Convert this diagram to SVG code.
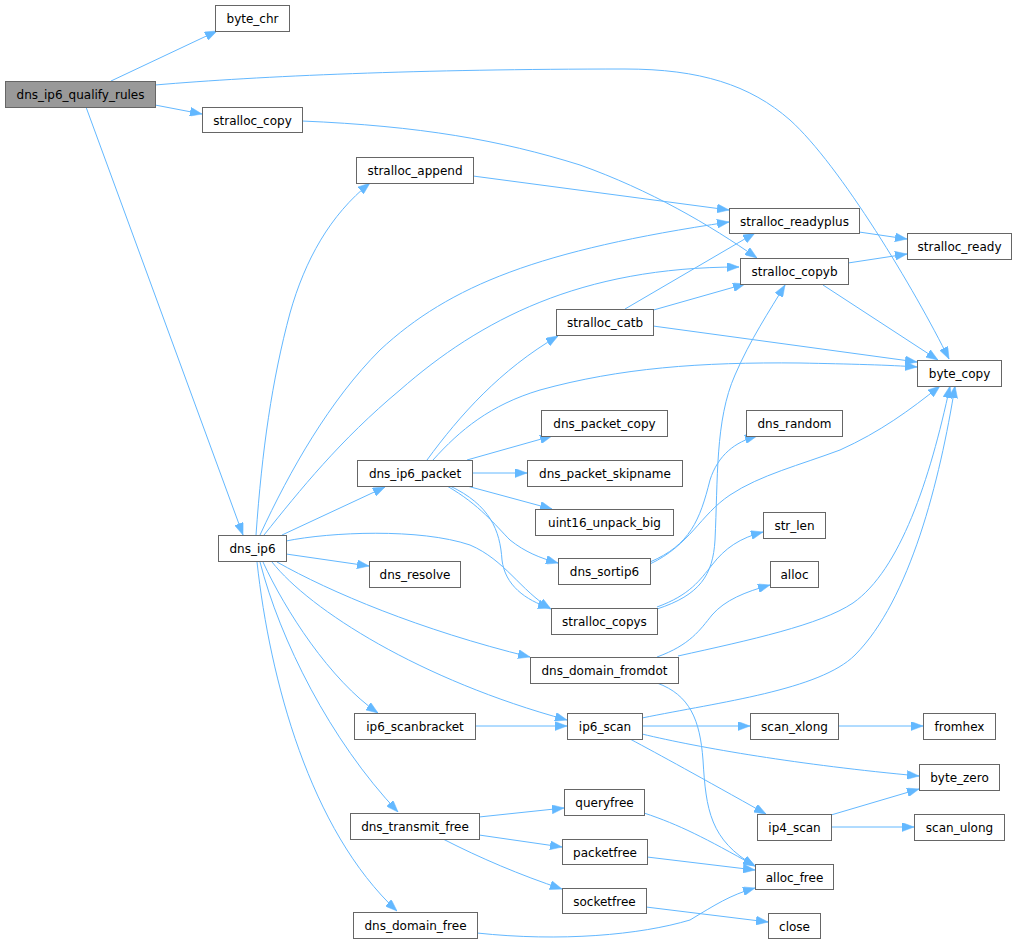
<svg xmlns="http://www.w3.org/2000/svg" width="1017" height="944" viewBox="0 0 1017 944">
<style>
.n rect{fill:#ffffff;stroke:#666666;stroke-width:1}
.n.root rect{fill:#999999}
.n text{font-family:"DejaVu Sans","Liberation Sans",sans-serif;font-size:12px;fill:#000000;text-anchor:middle}
.e path{fill:none;stroke:#63b8ff;stroke-width:1;marker-end:url(#arr)}
</style>
<defs>
<marker id="arr" markerUnits="userSpaceOnUse" markerWidth="12" markerHeight="9" refX="12" refY="4.5" orient="auto">
<path d="M0,0 L12,4.5 L0,9 z" fill="#63b8ff" stroke="#63b8ff" stroke-width="0.5"/>
</marker>
</defs>
<rect width="1017" height="944" fill="#ffffff"/>
<g id="connectors" class="e">
<path d="M111,81 L217,31"/>
<path d="M155,85 C260,76 420,69 625,69 C700,69 750,85 790,120 C840,165 915,290 949,359"/>
<path d="M155,105 L202,114"/>
<path d="M86,107 L243,535"/>
<path d="M302,121 C420,126 500,140 580,165 C650,190 710,225 757,258"/>
<path d="M473,176 L729,210"/>
<path d="M859,232 L907,239"/>
<path d="M848,263 L907,254"/>
<path d="M823,285 L938,360"/>
<path d="M625,309 L755,233"/>
<path d="M650,311 L745,284"/>
<path d="M653,326 L917,362"/>
<path d="M256,535 C262,450 272,380 290,313 C305,260 330,215 370,183"/>
<path d="M260,535 C290,470 330,400 380,350 C450,285 540,250 729,222"/>
<path d="M264,535 C300,490 340,440 400,390 C480,320 580,267 739,267"/>
<path d="M282,535 L385,487"/>
<path d="M286,541 C330,532 420,528 470,545 C505,560 520,590 551,609"/>
<path d="M286,554 L369,566"/>
<path d="M277,562 C330,592 420,630 530,657"/>
<path d="M272,562 C310,610 420,680 567,720"/>
<path d="M263,562 C285,610 330,680 378,713"/>
<path d="M260,562 C280,640 330,740 398,812"/>
<path d="M257,562 C270,680 310,830 397,911"/>
<path d="M427,460 C460,415 500,370 558,336"/>
<path d="M433,460 C460,430 490,405 540,390 C620,368 700,362 800,363 C850,364 890,365 917,367"/>
<path d="M467,460 L552,436"/>
<path d="M472,473 L527,473"/>
<path d="M467,486 L552,509"/>
<path d="M447,486 C480,505 495,525 510,540 C525,552 540,558 558,563"/>
<path d="M450,486 C490,505 500,530 502,560 C505,585 525,600 550,608"/>
<path d="M650,562 C690,545 700,520 710,480 C718,455 735,442 757,436"/>
<path d="M650,564 C690,545 700,515 730,495 C760,475 800,465 840,450 C880,432 910,410 940,386"/>
<path d="M657,609 C700,595 713,575 715,540 C718,480 715,420 735,375 C750,340 770,310 785,285"/>
<path d="M657,607 C690,595 700,580 712,565 C725,548 740,538 763,532"/>
<path d="M657,657 C690,645 700,630 712,615 C725,600 745,592 770,585"/>
<path d="M678,656 C750,640 820,625 853,603 C900,570 930,480 950,386"/>
<path d="M657,683 C690,695 700,720 703,760 C706,810 710,840 755,866"/>
<path d="M475,726 L567,726"/>
<path d="M642,718 C720,702 820,690 855,655 C910,600 940,480 955,386"/>
<path d="M642,726 L750,726"/>
<path d="M642,734 C700,748 800,765 919,776"/>
<path d="M630,739 C660,755 700,777 766,814"/>
<path d="M838,726 L923,726"/>
<path d="M831,815 L919,789"/>
<path d="M831,827 L914,827"/>
<path d="M479,817 L564,808"/>
<path d="M479,835 L562,847"/>
<path d="M443,839 C480,858 520,875 562,889"/>
<path d="M644,813 C680,825 705,838 755,866"/>
<path d="M647,857 L755,870"/>
<path d="M646,907 L768,922"/>
<path d="M477,933 C560,942 640,935 690,920 C715,905 730,895 755,888"/>
</g>
<g id="dns_ip6_qualify_rules" class="n root"><rect x="5.5" y="81.5" width="150" height="26"/><text x="80.5" y="99">dns_ip6_qualify_rules</text></g>
<g id="byte_chr" class="n"><rect x="215.5" y="5.5" width="74" height="26"/><text x="252.5" y="23">byte_chr</text></g>
<g id="stralloc_copy" class="n"><rect x="202.5" y="107.5" width="100" height="25"/><text x="252.5" y="125">stralloc_copy</text></g>
<g id="stralloc_append" class="n"><rect x="356.5" y="157.5" width="117" height="26"/><text x="415" y="175">stralloc_append</text></g>
<g id="stralloc_readyplus" class="n"><rect x="729.5" y="208.5" width="130" height="25"/><text x="794.5" y="226">stralloc_readyplus</text></g>
<g id="stralloc_ready" class="n"><rect x="907.5" y="233.5" width="104" height="26"/><text x="959.5" y="251">stralloc_ready</text></g>
<g id="stralloc_copyb" class="n"><rect x="740.5" y="258.5" width="108" height="26"/><text x="794.5" y="276">stralloc_copyb</text></g>
<g id="stralloc_catb" class="n"><rect x="556.5" y="309.5" width="97" height="26"/><text x="605" y="327">stralloc_catb</text></g>
<g id="byte_copy" class="n"><rect x="917.5" y="360.5" width="84" height="26"/><text x="959.5" y="378">byte_copy</text></g>
<g id="dns_packet_copy" class="n"><rect x="541.5" y="410.5" width="126" height="26"/><text x="604.5" y="428">dns_packet_copy</text></g>
<g id="dns_random" class="n"><rect x="746.5" y="410.5" width="96" height="26"/><text x="794.5" y="428">dns_random</text></g>
<g id="dns_ip6_packet" class="n"><rect x="357.5" y="460.5" width="115" height="26"/><text x="415" y="478">dns_ip6_packet</text></g>
<g id="dns_packet_skipname" class="n"><rect x="527.5" y="460.5" width="155" height="26"/><text x="605" y="478">dns_packet_skipname</text></g>
<g id="uint16_unpack_big" class="n"><rect x="535.5" y="509.5" width="138" height="26"/><text x="604.5" y="527">uint16_unpack_big</text></g>
<g id="str_len" class="n"><rect x="763.5" y="512.5" width="62" height="26"/><text x="794.5" y="530">str_len</text></g>
<g id="dns_ip6" class="n"><rect x="218.5" y="535.5" width="68" height="26"/><text x="252.5" y="553">dns_ip6</text></g>
<g id="dns_sortip6" class="n"><rect x="558.5" y="558.5" width="92" height="26"/><text x="604.5" y="576">dns_sortip6</text></g>
<g id="dns_resolve" class="n"><rect x="369.5" y="561.5" width="91" height="26"/><text x="415" y="579">dns_resolve</text></g>
<g id="alloc" class="n"><rect x="770.5" y="561.5" width="48" height="26"/><text x="794.5" y="579">alloc</text></g>
<g id="stralloc_copys" class="n"><rect x="551.5" y="608.5" width="106" height="26"/><text x="604.5" y="626">stralloc_copys</text></g>
<g id="dns_domain_fromdot" class="n"><rect x="530.5" y="657.5" width="148" height="26"/><text x="604.5" y="675">dns_domain_fromdot</text></g>
<g id="ip6_scanbracket" class="n"><rect x="354.5" y="713.5" width="121" height="26"/><text x="415" y="731">ip6_scanbracket</text></g>
<g id="ip6_scan" class="n"><rect x="567.5" y="713.5" width="75" height="26"/><text x="605" y="731">ip6_scan</text></g>
<g id="scan_xlong" class="n"><rect x="750.5" y="713.5" width="88" height="26"/><text x="794.5" y="731">scan_xlong</text></g>
<g id="fromhex" class="n"><rect x="923.5" y="713.5" width="72" height="26"/><text x="959.5" y="731">fromhex</text></g>
<g id="byte_zero" class="n"><rect x="919.5" y="764.5" width="80" height="26"/><text x="959.5" y="782">byte_zero</text></g>
<g id="queryfree" class="n"><rect x="564.5" y="789.5" width="80" height="26"/><text x="604.5" y="807">queryfree</text></g>
<g id="dns_transmit_free" class="n"><rect x="350.5" y="813.5" width="129" height="26"/><text x="415" y="831">dns_transmit_free</text></g>
<g id="ip4_scan" class="n"><rect x="757.5" y="814.5" width="74" height="26"/><text x="794.5" y="832">ip4_scan</text></g>
<g id="scan_ulong" class="n"><rect x="914.5" y="814.5" width="90" height="26"/><text x="959.5" y="832">scan_ulong</text></g>
<g id="packetfree" class="n"><rect x="562.5" y="839.5" width="85" height="25"/><text x="605" y="857">packetfree</text></g>
<g id="alloc_free" class="n"><rect x="755.5" y="864.5" width="78" height="25"/><text x="794.5" y="882">alloc_free</text></g>
<g id="socketfree" class="n"><rect x="562.5" y="888.5" width="84" height="25"/><text x="604.5" y="906">socketfree</text></g>
<g id="dns_domain_free" class="n"><rect x="353.5" y="912.5" width="124" height="26"/><text x="415.5" y="930">dns_domain_free</text></g>
<g id="close" class="n"><rect x="768.5" y="913.5" width="52" height="25"/><text x="794.5" y="931">close</text></g>
</svg>
